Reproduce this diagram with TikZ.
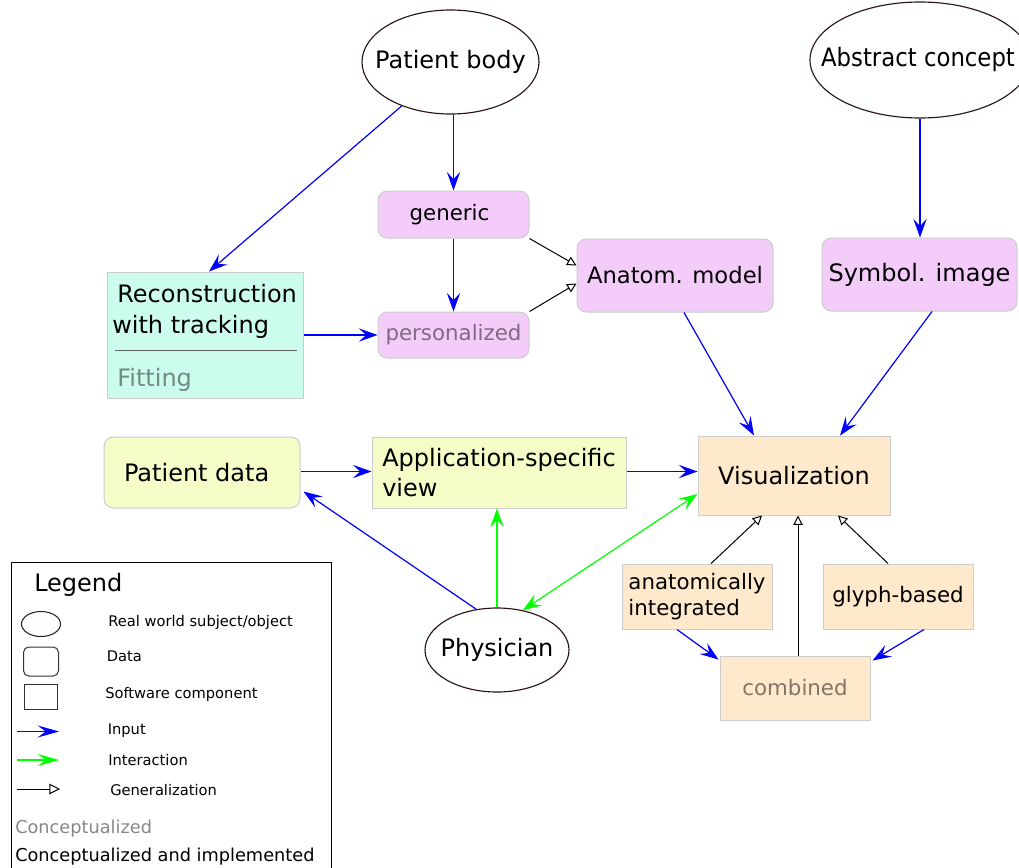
\documentclass[tikz,border=0pt]{standalone}
\usepackage{fontspec}
\setmainfont{DejaVu Sans}
\newfontfamily\condsans{DejaVu Sans Condensed}
\usetikzlibrary{arrows.meta,shapes.geometric,calc}

\definecolor{pinkfill}{HTML}{F4CCFA}
\definecolor{cyanfill}{HTML}{CCFCEE}
\definecolor{yellowfill}{HTML}{F5FCC8}
\definecolor{peachfill}{HTML}{FFE9CC}
\definecolor{boxline}{HTML}{CCCCCC}
\definecolor{objline}{HTML}{2A1414}
\definecolor{inputblue}{HTML}{0000FF}
\definecolor{interactgreen}{HTML}{00FF00}

\newcommand\txtL{\fontsize{18}{22}\selectfont}
\newcommand\txtAM{\fontsize{17}{21}\selectfont}
\newcommand\txtM{\fontsize{16}{19.5}\selectfont}
\newcommand\txtS{\fontsize{11}{13}\selectfont}
\newcommand\txtLeg{\fontsize{13.3}{16}\selectfont}

\tikzset{
  realobj/.style={ellipse, draw=objline, line width=0.85pt, inner sep=0pt},
  objtext/.style={inner sep=0pt, font=\txtL},
  databox/.style={rectangle, rounded corners=7pt, draw=boxline, line width=0.75pt, inner sep=0pt},
  swbox/.style={rectangle, draw=boxline, line width=0.75pt, inner sep=0pt},
  tipS/.tip={Stealth[length=14pt,width=10pt,inset=5.5pt]},
  inarrow/.style={draw=inputblue, line width=0.9pt, -tipS},
  interarrow/.style={draw=interactgreen, line width=0.9pt, -tipS},
  bothinter/.style={draw=interactgreen, line width=0.9pt, tipS-tipS},
  genarrow/.style={draw=black, line width=0.75pt, -{Triangle[open,length=7pt,width=7pt]}},
  lbl/.style={inner sep=0pt, anchor=base west},
}

\begin{document}
\begin{tikzpicture}[x=0.75pt, y=-0.75pt]
\useasboundingbox (0,0) rectangle (1019,867);

% real world subjects / objects
\node[realobj, minimum width=177*0.75pt, minimum height=104*0.75pt,
      label={[objtext]center:Patient body}] (pbody) at (450.5,62) {};
\node[realobj, minimum width=220*0.75pt, minimum height=116*0.75pt,
      label={[objtext, font=\condsans\fontsize{19}{22}\selectfont, xshift=-1.5pt]center:Abstract concept}] (abs) at (920,60) {};
\node[realobj, minimum width=144*0.75pt, minimum height=84*0.75pt,
      label={[objtext]center:Physician}] (phys) at (497,650) {};

% data
\node[databox, fill=pinkfill, minimum width=151*0.75pt, minimum height=47*0.75pt, font=\txtM] (generic) at (453.5,214.5) {\hspace*{-6pt}generic};
\node[databox, fill=pinkfill, minimum width=151*0.75pt, minimum height=46*0.75pt, font=\txtM, text=black!48!pinkfill] (personal) at (453.5,335) {\raisebox{-2pt}{personalized}};
\node[databox, fill=pinkfill, minimum width=196*0.75pt, minimum height=73*0.75pt, font=\txtAM] (anat) at (675,275.5) {Anatom. model};
\node[databox, fill=pinkfill, minimum width=195*0.75pt, minimum height=73*0.75pt, font=\txtL] (symb) at (919.5,274.5) {Symbol. image};
\node[databox, fill=yellowfill, minimum width=196*0.75pt, minimum height=71*0.75pt, font=\txtL] (patdata) at (202,472.5) {\hspace*{-8pt}Patient data};

% software components
\node[swbox, fill=cyanfill, minimum width=196*0.75pt, minimum height=126*0.75pt] (recon) at (205,335) {};
\node[lbl, font=\txtL] (reconA) at (117,302) {Reconstruction};
\node[lbl, font=\txtL] (reconB) at (112,333) {with tracking};
\draw[black!62, line width=0.75pt] (115,350) coordinate (divA) -- (297,350) coordinate (divB);
\node[lbl, font=\txtL, text=black!45!cyanfill] (fitting) at (117,386) {Fitting};

\node[swbox, fill=yellowfill, minimum width=254*0.75pt, minimum height=71*0.75pt, font=\txtL, align=left] (appview) at (499,472.5) {Application-specific\\view};
\node[swbox, fill=peachfill, minimum width=192*0.75pt, minimum height=79*0.75pt, font=\txtL] (vis) at (794,475.5) {Visualization};
\node[swbox, fill=peachfill, minimum width=150*0.75pt, minimum height=65*0.75pt, font=\txtM, align=left] (anatint) at (697,596.5) {anatomically\\integrated};
\node[swbox, fill=peachfill, minimum width=150*0.75pt, minimum height=65*0.75pt, font=\txtM] (glyph) at (898,596.5) {glyph-based};
\node[swbox, fill=peachfill, minimum width=150*0.75pt, minimum height=64*0.75pt, font=\txtM, text=black!50!peachfill] (comb) at (795,688) {combined};

% input connectors
\draw[inarrow] (pbody.222) -- ($(recon.north)+(4,0)$);
\draw[inarrow] (pbody.south -| generic.north) -- (generic.north);
\draw[inarrow] (generic.south) -- (personal.north);
\draw[inarrow] (recon.east) -- (personal.west);
\draw[inarrow] (abs.south) -- (abs.south |- symb.north);
\draw[inarrow] ($(anat.south)+(9,0)$) -- ($(vis.north)+(-40,0)$);
\draw[inarrow] ($(symb.south)+(12.5,0)$) -- ($(vis.north)+(46,0)$);
\draw[inarrow] ($(patdata.east)+(0,-1)$) -- ($(appview.west)+(0,-1)$);
\draw[inarrow] ($(appview.east)+(0,-1)$) -- ($(appview.east -| vis.west)+(0,-1)$);
\draw[inarrow] (phys.117) -- ($(patdata.south east)+(3,-17)$);
\draw[inarrow] ($(anatint.south)+(-20,0)$) -- ($(comb.north west)+(-1,4)$);
\draw[inarrow] ($(glyph.south)+(26,0)$) -- ($(comb.north east)+(2,5)$);

% interaction connectors
\draw[interarrow] (phys.north) -- (phys.north |- appview.south);
\draw[bothinter] (phys.57) -- ($(vis.west)+(0,18.5)$);

% generalization connectors
\draw[genarrow] (generic.south east) -- ($(anat.west)+(0,-10)$);
\draw[genarrow] (personal.north east) -- ($(anat.west)+(0,8)$);
\draw[genarrow] ($(anatint.north)+(14,0)$) -- ($(vis.south)+(-32,0)$);
\draw[genarrow] ($(comb.north)+(3,0)$) -- ($(comb.north |- vis.south)+(3,0)$);
\draw[genarrow] ($(glyph.north)+(-10,0)$) -- ($(vis.south)+(44,0)$);

% legend
\node[draw, line width=0.75pt, anchor=north west, minimum width=320*0.75pt, minimum height=340*0.75pt, inner sep=0pt] (legendbox) at (11,562) {};
\node[lbl, font=\txtL] (legtitle) at (34,591) {Legend};
\node[ellipse, draw=objline, line width=0.75pt, minimum width=39*0.75pt, minimum height=25*0.75pt, inner sep=0pt] (legobj) at (41,624) {};
\node[lbl, font=\txtS] (legobjtxt) at (108,626.5) {Real world subject/object};
\node[rectangle, rounded corners=4pt, draw=black!80, line width=0.75pt, minimum width=35*0.75pt, minimum height=29*0.75pt, inner sep=0pt] (legdata) at (41,661.5) {};
\node[lbl, font=\txtS] (legdatatxt) at (106.5,661.5) {Data};
\node[rectangle, draw=black!80, line width=0.75pt, minimum width=33*0.75pt, minimum height=25*0.75pt, inner sep=0pt] (legsw) at (41,696.5) {};
\node[lbl, font=\txtS] (legswtxt) at (105,698) {Software component};
\coordinate (legInA) at (17,731.5);
\coordinate (legInB) at (59,731.5);
\draw[draw=inputblue, line width=0.9pt, -{Stealth[length=16pt,width=9pt,inset=6pt]}] (legInA) -- (legInB);
\node[lbl, font=\txtS] (leginput) at (107.5,734) {Input};
\coordinate (legIaA) at (17,760);
\coordinate (legIaB) at (59,760);
\draw[draw=interactgreen, line width=0.9pt, -{Stealth[length=16pt,width=9pt,inset=6pt]}] (legIaA) -- (legIaB);
\node[lbl, font=\txtS] (leginter) at (108,765) {Interaction};
\coordinate (legGA) at (17,789);
\coordinate (legGB) at (60,789);
\draw[genarrow, -{Triangle[open,length=8pt,width=8pt]}] (legGA) -- (legGB);
\node[lbl, font=\txtS] (leggen) at (110,795) {Generalization};
\node[lbl, font=\txtLeg, text=black!47] (legconc) at (15,833) {Conceptualized};
\node[lbl, font=\txtLeg] (legimpl) at (15,861.5) {Conceptualized and implemented};
\end{tikzpicture}
\end{document}
